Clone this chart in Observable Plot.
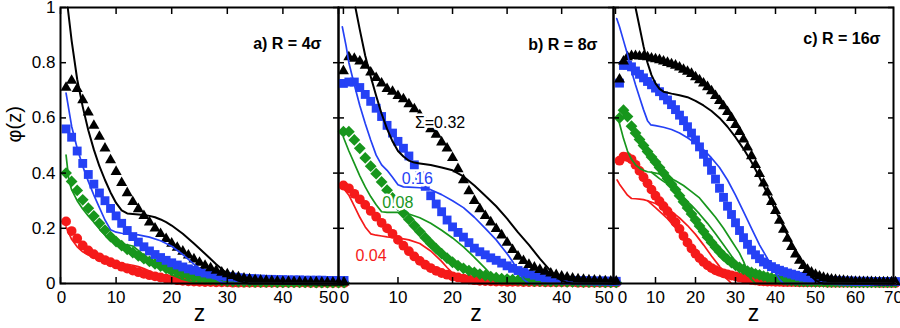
<!DOCTYPE html>
<html><head><meta charset="utf-8">
<script src="https://cdn.jsdelivr.net/npm/d3@7"></script>
<script src="https://cdn.jsdelivr.net/npm/@observablehq/plot@0.6"></script>
<style>
body{margin:0;background:#fff;}
#chart{position:relative;width:900px;height:328px;overflow:hidden;font-family:"Liberation Sans",Arial,sans-serif;}
#chart svg{position:absolute;top:0;}
</style></head><body><div id="chart"></div>
<script>
// ---------- DATA ----------
const yTicks = [0, 0.2, 0.4, 0.6, 0.8, 1];
const yTickText = ["0", "0.2", "0.4", "0.6", "0.8", "1"];
const xTicksA = [0, 10, 20, 30, 40, 50];
const xTicksB = [0, 10, 20, 30, 40, 50];
const xTicksC = [0, 10, 20, 30, 40, 50, 60, 70];
const titles = ["a) R = 4σ", "b) R = 8σ", "c) R = 16σ"];
const sigmaLabels = ["Σ=0.32", "0.16", "0.08", "0.04"];
const sigmaLabelZ = [13.1, 10.7, 7.1, 2.2];
const sigmaLabelPhi = [0.583, 0.38, 0.292, 0.1];

// panel a: simulation points (z = 1..51)
const zA = [1,2,3,4,5,6,7,8,9,10,11,12,13,14,15,16,17,18,19,20,21,22,23,24,25,26,27,28,29,30,31,32,33,34,35,36,37,38,39,40,41,42,43,44,45,46,47,48,49,50,51];
const triA = [0.71,0.735,0.705,0.665,0.62,0.572,0.532,0.49,0.447,0.405, 0.365,0.328,0.296,0.27,0.245,0.222,0.2,0.18,0.162,0.145, 0.13,0.116,0.102,0.088,0.076,0.065,0.056,0.047,0.04,0.034, 0.028,0.023,0.019,0.016,0.013,0.011,0.01,0.009,0.008,0.007, 0.007,0.006,0.006,0.005,0.005,0.005,0.004,0.004,0.004,0.004,0.004];
const sqA = [0.56,0.53,0.48,0.435,0.395,0.36,0.328,0.3,0.272,0.245, 0.218,0.192,0.17,0.15,0.133,0.118,0.105,0.094,0.084,0.075, 0.067,0.06,0.053,0.048,0.043,0.038,0.034,0.031,0.028,0.025, 0.023,0.021,0.019,0.018,0.017,0.016,0.015,0.015,0.014,0.014, 0.013,0.013,0.013,0.012,0.012,0.012,0.012,0.011,0.011,0.011,0.011];
const diaA = [0.40,0.37,0.337,0.303,0.273,0.245,0.218,0.193,0.17,0.152, 0.137,0.124,0.112,0.1,0.09,0.08,0.071,0.063,0.055,0.048, 0.041,0.035,0.029,0.024,0.02,0.017,0.014,0.012,0.01,0.009, 0.008,0.007,0.006,0.006,0.005,0.005,0.005,0.005,0.004,0.004, 0.004,0.004,0.004,0.004,0.004,0.003,0.003,0.003,0.003,0.003,0.003];
const cirA = [0.225,0.19,0.163,0.138,0.12,0.106,0.095,0.085,0.077,0.069, 0.061,0.054,0.047,0.041,0.035,0.03,0.026,0.022,0.018,0.015, 0.012,0.01,0.008,0.007,0.006,0.005,0.005,0.004,0.004,0.004, 0.003,0.003,0.003,0.003,0.003,0.003,0.003,0.003,0.003,0.003, 0.003,0.003,0.003,0.003,0.002,0.002,0.002,0.002,0.002,0.002,0.002];
// panel a: theory curves [z, phi]
const lineA_black = [[1.3,1.0],[2,0.88],[3,0.74],[4,0.64],[5,0.555],[6,0.485],[7,0.425],[8,0.375],[9,0.33],[10,0.292],[11,0.265],[12,0.254],[13,0.252],[14,0.25],[15,0.248],[16,0.245],[17,0.24],[18,0.232],[19,0.222],[20,0.21],[22,0.18],[24,0.145],[26,0.108],[28,0.07],[30,0.035],[31,0.02],[32,0.01],[33,0.004],[34,0],[50,0]];
const lineA_blue = [[1,0.69],[2,0.57],[3,0.49],[4,0.425],[5,0.37],[6,0.32],[7,0.275],[8,0.23],[9,0.195],[10,0.186],[11,0.182],[12,0.18],[14,0.176],[16,0.168],[18,0.155],[20,0.135],[22,0.105],[24,0.07],[26,0.04],[28,0.015],[29,0.005],[30,0],[50,0]];
const lineA_green = [[1,0.465],[1.5,0.375],[2,0.34],[3,0.3],[4,0.27],[5,0.245],[6,0.222],[7,0.198],[8,0.175],[9,0.155],[10,0.148],[11,0.143],[12,0.14],[13,0.136],[14,0.12],[16,0.085],[18,0.055],[20,0.032],[22,0.015],[24,0.005],[26,0],[50,0]];
const lineA_red = [[1,0.205],[2,0.16],[3,0.133],[4,0.115],[5,0.103],[6,0.093],[7,0.085],[8,0.078],[9,0.073],[10,0.071],[11,0.07],[12,0.069],[13,0.066],[14,0.061],[15,0.054],[16,0.045],[17,0.034],[18,0.022],[19,0.012],[20,0.005],[21,0],[50,0]];
const lineA_redBranch = [[9,0.073],[11,0.06],[13,0.047],[15,0.033],[17,0.02],[19,0.01],[21,0]];

// panel b: simulation points (z = 0..50)
const zB = [0,1,2,3,4,5,6,7,8,9,10,11,12,13,14,15,16,17,18,19,20,21,22,23,24,25,26,27,28,29,30,31,32,33,34,35,36,37,38,39,40,41,42,43,44,45,46,47,48,49,50];
const triB = [0.77,0.82,0.815,0.805,0.79,0.765,0.745,0.725,0.705,0.695, 0.68,0.668,0.65,0.632,0.61,0.585,0.56,0.54,0.512,0.49, 0.455,0.415,0.375,0.335,0.3,0.27,0.245,0.222,0.198,0.175, 0.148,0.122,0.098,0.082,0.068,0.058,0.05,0.043,0.037,0.031, 0.026,0.022,0.019,0.016,0.014,0.012,0.011,0.01,0.009,0.008,0.008];
const sqB = [0.725,0.73,0.73,0.71,0.685,0.66,0.635,0.605,0.573,0.545, 0.515,0.49,0.462,0.43,0.39,0.352,0.318,0.288,0.26,0.23, 0.205,0.185,0.168,0.148,0.128,0.115,0.104,0.093,0.084,0.074, 0.064,0.055,0.047,0.041,0.035,0.03,0.025,0.021,0.017,0.014, 0.012,0.011,0.011,0.01,0.01,0.01,0.009,0.009,0.009,0.008,0.008];
const diaB = [0.55,0.55,0.52,0.49,0.455,0.425,0.398,0.368,0.338,0.31, 0.283,0.255,0.232,0.21,0.188,0.166,0.145,0.126,0.108,0.092, 0.077,0.065,0.055,0.047,0.04,0.034,0.029,0.025,0.021,0.018, 0.016,0.014,0.012,0.011,0.01,0.009,0.009,0.008,0.008,0.007, 0.007,0.006,0.006,0.006,0.005,0.005,0.005,0.005,0.004,0.004,0.004];
const cirB = [0.355,0.345,0.325,0.305,0.285,0.263,0.242,0.22,0.2,0.18, 0.158,0.137,0.117,0.098,0.082,0.068,0.056,0.046,0.038,0.032, 0.026,0.022,0.018,0.015,0.012,0.01,0.009,0.008,0.007,0.007, 0.006,0.006,0.006,0.005,0.005,0.005,0.005,0.004,0.004,0.004, 0.004,0.004,0.004,0.003,0.003,0.003,0.003,0.003,0.003,0.003,0.003];
const lineB_black = [[2.2,1.0],[3,0.92],[4,0.825],[5,0.75],[6,0.68],[7,0.615],[8,0.56],[9,0.515],[10,0.48],[11,0.46],[12,0.445],[13,0.438],[14,0.435],[16,0.429],[18,0.42],[20,0.41],[22,0.388],[24,0.355],[26,0.318],[28,0.28],[30,0.235],[32,0.185],[34,0.14],[36,0.09],[38,0.045],[39,0.025],[40,0.01],[41,0.003],[42,0],[50,0]];
const lineB_blue = [[-0.2,0.93],[0.5,0.86],[1,0.8],[2,0.72],[3,0.645],[4,0.58],[5,0.52],[6,0.465],[7,0.43],[8,0.41],[9,0.385],[10,0.358],[11,0.35],[12,0.349],[14,0.347],[16,0.34],[18,0.322],[20,0.3],[22,0.275],[24,0.24],[26,0.2],[28,0.158],[30,0.108],[31,0.08],[32,0.045],[33,0.015],[34,0],[50,0]];
const lineB_green = [[0,0.53],[1,0.48],[2,0.435],[3,0.39],[4,0.35],[5,0.315],[6,0.285],[7,0.26],[8,0.258],[9,0.258],[10,0.258],[11,0.257],[12,0.252],[14,0.238],[16,0.218],[18,0.193],[20,0.165],[22,0.133],[24,0.095],[26,0.055],[27,0.033],[28,0.012],[29,0],[50,0]];
const lineB_red = [[0,0.345],[1,0.32],[2,0.28],[3,0.24],[4,0.205],[5,0.18],[6,0.175],[7,0.172],[8,0.169],[10,0.165],[12,0.158],[14,0.145],[16,0.118],[18,0.08],[19,0.058],[20,0.038],[21,0.018],[22,0.004],[23,0],[50,0]];

// panel c: simulation points (z = 1..70)
const zC = [1,2,3,4,5,6,7,8,9,10,11,12,13,14,15,16,17,18,19,20,21,22,23,24,25,26,27,28,29,30,31,32,33,34,35,36,37,38,39,40,41,42,43,44,45,46,47,48,49,50,51,52,53,54,55,56,57,58,59,60,61,62,63,64,65,66,67,68,69,70];
const triC = [0.74,0.805,0.82,0.825,0.825,0.823,0.822,0.82,0.816,0.813, 0.81,0.805,0.8,0.795,0.79,0.783,0.775,0.768,0.76,0.748, 0.737,0.725,0.712,0.697,0.68,0.662,0.643,0.622,0.6,0.575, 0.55,0.522,0.493,0.462,0.43,0.397,0.363,0.33,0.296,0.263, 0.228,0.195,0.163,0.133,0.106,0.083,0.064,0.05,0.04,0.032, 0.026,0.021,0.018,0.015,0.013,0.011,0.01,0.009,0.008,0.007, 0.007,0.006,0.006,0.006,0.005,0.005,0.005,0.005,0.005,0.005];
const sqC = [0.726,0.79,0.792,0.785,0.77,0.758,0.745,0.732,0.72,0.708, 0.695,0.68,0.665,0.648,0.63,0.61,0.59,0.568,0.545,0.52, 0.495,0.468,0.44,0.41,0.378,0.345,0.312,0.28,0.25,0.22, 0.192,0.166,0.142,0.121,0.104,0.09,0.078,0.069,0.061,0.054, 0.048,0.043,0.038,0.034,0.03,0.026,0.023,0.02,0.018,0.016, 0.014,0.013,0.012,0.011,0.01,0.01,0.009,0.009,0.009,0.008, 0.008,0.008,0.008,0.007,0.007,0.007,0.007,0.007,0.007,0.007];
const diaC = [0.6,0.628,0.605,0.57,0.545,0.522,0.5,0.478,0.458,0.44, 0.42,0.4,0.38,0.36,0.34,0.318,0.296,0.274,0.252,0.23, 0.208,0.188,0.168,0.149,0.131,0.115,0.1,0.087,0.076,0.066, 0.058,0.051,0.045,0.04,0.035,0.031,0.027,0.023,0.02,0.017, 0.015,0.013,0.011,0.01,0.009,0.008,0.008,0.007,0.007,0.006, 0.006,0.006,0.005,0.005,0.005,0.005,0.005,0.005,0.004,0.004, 0.004,0.004,0.004,0.004,0.004,0.004,0.004,0.004,0.004,0.004];
const cirC = [0.445,0.46,0.458,0.45,0.43,0.408,0.385,0.363,0.34,0.318, 0.298,0.28,0.262,0.243,0.222,0.198,0.172,0.148,0.127,0.108, 0.092,0.078,0.066,0.056,0.048,0.042,0.037,0.033,0.029,0.026, 0.022,0.019,0.016,0.013,0.011,0.009,0.008,0.007,0.007,0.006, 0.006,0.005,0.005,0.005,0.005,0.004,0.004,0.004,0.004,0.004, 0.004,0.004,0.003,0.003,0.003,0.003,0.003,0.003,0.003,0.003, 0.003,0.003,0.003,0.003,0.003,0.002,0.002,0.002,0.002,0.002];
const lineC_black = [[5,1.0],[6,0.93],[7,0.86],[8,0.8],[9,0.755],[10,0.725],[11,0.705],[12,0.695],[14,0.688],[16,0.682],[18,0.675],[20,0.662],[22,0.645],[24,0.625],[26,0.6],[28,0.568],[30,0.53],[32,0.488],[34,0.44],[36,0.385],[38,0.325],[40,0.265],[42,0.205],[44,0.145],[46,0.09],[48,0.045],[49,0.025],[50,0.012],[51,0.004],[52,0],[70,0]];
const lineC_blue = [[0.3,0.96],[1,0.93],[2,0.88],[3,0.83],[4,0.77],[5,0.72],[6,0.675],[7,0.63],[8,0.59],[8.8,0.575],[10,0.572],[12,0.566],[14,0.558],[16,0.545],[18,0.528],[20,0.508],[22,0.485],[24,0.455],[26,0.42],[28,0.375],[30,0.32],[32,0.26],[34,0.2],[36,0.14],[38,0.09],[39,0.07],[40,0.04],[41,0.015],[42,0],[70,0]];
const lineC_green = [[0.4,0.605],[1,0.58],[2,0.525],[3,0.48],[4,0.45],[5,0.43],[6,0.418],[7,0.41],[8,0.405],[9,0.403],[11,0.397],[13,0.387],[15,0.372],[17,0.355],[19,0.333],[21,0.31],[23,0.275],[25,0.24],[27,0.2],[29,0.155],[31,0.11],[32,0.08],[33,0.045],[34,0.015],[35,0],[70,0]];
const lineC_greenBranch = [[9,0.403],[11,0.38],[13,0.36],[15,0.337],[17,0.31],[19,0.283],[21,0.252],[23,0.218],[25,0.18],[27,0.14],[29,0.1],[31,0.062],[33,0.03],[34,0.015]];
const lineC_red = [[0.4,0.375],[1,0.36],[2,0.34],[3,0.32],[4,0.308],[5,0.307],[6,0.306],[7,0.304],[8,0.3],[10,0.29],[12,0.278],[14,0.26],[16,0.238],[18,0.21],[20,0.178],[22,0.14],[24,0.1],[26,0.062],[27,0.04],[28,0.015],[29,0],[70,0]];
const lineC_redBranch = [[8,0.3],[10,0.275],[13,0.235],[16,0.185],[19,0.128],[22,0.08],[25,0.045],[27,0.025],[28,0.015]];

// ---------- STYLE ----------
const C = {black: "#000000", blue: "#2541f5", green: "#17961c", red: "#f51a1a"};
const FONT = '"Liberation Sans", Arial, Helvetica, sans-serif';

function panel(cfg) {
  const marks = [];
  const [d0, d1] = cfg.domain;
  const inside = t => t >= d0 - 1e-9 && t <= d1 + 1e-9;
  const sets = [
    {v: cfg.cir, symbol: "circle", r: 4.9, fill: C.red},
    {v: cfg.dia, symbol: "diamond2", r: 5.3, fill: C.green},
    {v: cfg.sq, symbol: "square", r: 5.0, fill: C.blue},
    {v: cfg.tri, symbol: "triangle", r: 4.1, fill: C.black}
  ];
  for (const s of sets) {
    marks.push(Plot.dot(s.v, {x: cfg.z, y: d => d, symbol: s.symbol, r: s.r, fill: s.fill}));
  }
  if (cfg.sigmaLabels) {
    const cols = [C.black, C.blue, C.green, C.red];
    sigmaLabels.forEach((t, i) => {
      marks.push(Plot.text([t], {x: [sigmaLabelZ[i]], y: [sigmaLabelPhi[i]], text: d => d,
        fill: cols[i], stroke: "white", strokeWidth: 5, paintOrder: "stroke", strokeLinejoin: "round",
        textAnchor: "start", lineAnchor: "middle", fontSize: 16, fontFamily: FONT}));
    });
  }
  for (const l of cfg.lines) {
    marks.push(Plot.line(l.p, {x: d => d[0], y: d => d[1], stroke: l.c, strokeWidth: l.c === C.black ? 2 : 1.7}));
  }
  marks.push(Plot.frame({strokeWidth: 2, stroke: "black"}));
  const xt = cfg.xTicks.filter(inside);
  marks.push(Plot.axisX(xt, {anchor: "bottom", tickSize: -6, fill: "none", label: null, strokeWidth: 1.5}));
  marks.push(Plot.axisX(xt, {anchor: "top", tickSize: -6, fill: "none", label: null, strokeWidth: 1.5}));
  marks.push(Plot.axisY(yTicks, {anchor: "left", tickSize: -6, fill: "none", label: null, strokeWidth: 1.5}));
  marks.push(Plot.axisY(yTicks, {anchor: "right", tickSize: -6, fill: "none", label: null, strokeWidth: 1.5}));
  cfg.xTicks.forEach((v, i) => {
    marks.push(Plot.text([v], {x: d => d, text: d => String(d), frameAnchor: "bottom", lineAnchor: "top",
      dy: 7, dx: cfg.labelDx[i], fontSize: 17, fontFamily: FONT, fill: "black"}));
  });
  if (cfg.yLabels) {
    marks.push(Plot.text(yTicks, {y: d => d, text: (d, i) => yTickText[i], frameAnchor: "left", textAnchor: "end",
      lineAnchor: "middle", dx: -5, fontSize: 17, fontFamily: FONT, fill: "black"}));
    marks.push(Plot.text(["φ(z)"], {text: d => d, frameAnchor: "left", lineAnchor: "middle", dx: -46, dy: -3, rotate: -90,
      fontSize: 20, fontFamily: FONT, fill: "black"}));
  }
  marks.push(Plot.text(["z"], {text: d => d, frameAnchor: "bottom", lineAnchor: "middle", dy: 30, fontSize: 23, fontFamily: FONT, fill: "black"}));
  marks.push(Plot.text([cfg.title], {text: d => d, frameAnchor: "top-right", textAnchor: "end", lineAnchor: "middle",
    dx: cfg.titleDx, dy: cfg.titleDy, fontSize: 16, fontWeight: "bold", fontFamily: FONT, fill: "black"}));

  const svg = Plot.plot({
    width: cfg.width, height: 328,
    marginLeft: cfg.ml, marginRight: cfg.mr, marginTop: 7, marginBottom: 45,
    x: {domain: cfg.domain, axis: null},
    y: {domain: [0, 1], axis: null},
    style: {overflow: "visible", background: "transparent", fontFamily: FONT},
    marks
  });
  svg.style.position = "absolute";
  svg.style.left = cfg.left + "px";
  svg.style.top = "0px";
  svg.style.overflow = "visible";
  svg.style.maxWidth = "none";
  return svg;
}

const chart = document.getElementById("chart");
chart.appendChild(panel({
  left: 0, width: 338, ml: 60, mr: 0, domain: [0, 50], z: zA,
  tri: triA, sq: sqA, dia: diaA, cir: cirA,
  lines: [{p: lineA_red, c: C.red}, {p: lineA_redBranch, c: C.red}, {p: lineA_green, c: C.green}, {p: lineA_blue, c: C.blue}, {p: lineA_black, c: C.black}],
  xTicks: xTicksA, labelDx: [1, 0, 0, 0, 0, -10], yLabels: true,
  title: titles[0], titleDx: -17, titleDy: 36
}));
chart.appendChild(panel({
  left: 338, width: 275, ml: 0, mr: 0, domain: [-0.9, 49.5], z: zB,
  tri: triB, sq: sqB, dia: diaB, cir: cirB,
  lines: [{p: lineB_red, c: C.red}, {p: lineB_green, c: C.green}, {p: lineB_blue, c: C.blue}, {p: lineB_black, c: C.black}],
  xTicks: xTicksB, labelDx: [1, 0, 0, 0, 0, -12], sigmaLabels: true,
  title: titles[1], titleDx: -16, titleDy: 37
}));
chart.appendChild(panel({
  left: 613, width: 287, ml: 0, mr: 7, domain: [-0.5, 69.5], z: zC,
  tri: triC, sq: sqC, dia: diaC, cir: cirC,
  lines: [{p: lineC_red, c: C.red}, {p: lineC_redBranch, c: C.red}, {p: lineC_green, c: C.green}, {p: lineC_greenBranch, c: C.green}, {p: lineC_blue, c: C.blue}, {p: lineC_black, c: C.black}],
  xTicks: xTicksC, labelDx: [7, 0, 0, 0, 0, 0, 0, -2],
  title: titles[2], titleDx: -13, titleDy: 31
}));
</script></body></html>
